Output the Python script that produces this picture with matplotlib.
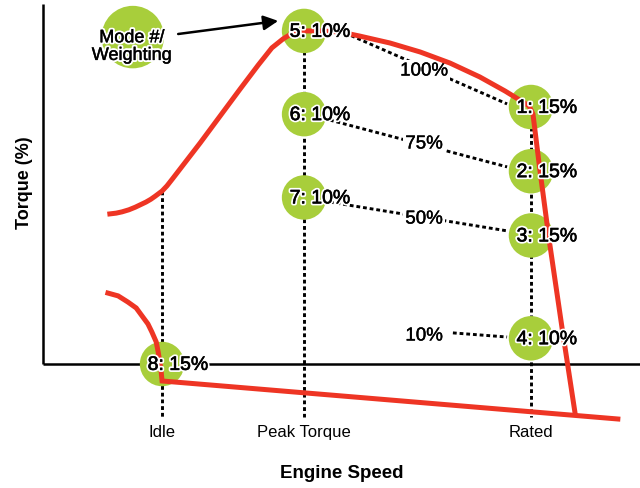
import matplotlib.pyplot as plt
import matplotlib.patheffects as pe

plt.rcParams['font.family'] = ['Liberation Sans', 'DejaVu Sans']

# engine speed in % of rated, torque in % of rated torque
IDLE, PEAK, RATED = 24.4, 53.5, 100.0
PEAK_T = 129.6

# full-load torque curve (lug line + governor)
lug_speed = [13.7, 15.0, 16.2, 17.6, 18.9, 20.0, 21.1, 22.1, 23.0, 24.4, 25.4, 26.6, 28.1,
             32.2, 36.3, 40.4, 44.1, 46.9, 49.2, 51.2, 53.5, 56.8, 60.9, 64.9, 71.1, 77.3,
             83.4, 89.5, 94.7, 97.7, 99.6, 100.4, 101.8, 103.7, 106.4, 109.0]
lug_torque = [58.4, 58.7, 59.2, 60.0, 61.0, 62.0, 63.0, 64.1, 65.3, 67.3, 69.3, 72.2, 75.9,
              86.0, 96.5, 107.0, 116.3, 123.0, 126.5, 128.8, 129.6, 129.6, 129.2, 127.6, 124.9, 121.4,
              117.1, 111.7, 106.2, 102.7, 100.4, 97.3, 75.9, 48.6, 13.6, -18.7]

# idle / motoring curve
mot_speed = [13.3, 15.4, 17.4, 19.1, 20.3, 21.5, 22.3, 23.2, 23.6, 24.0, 24.2, 24.4, 117.8]
mot_torque = [27.6, 26.5, 24.1, 21.8, 18.7, 15.6, 12.5, 8.6, 4.7, 0.0, -2.7, -6.6, -21.4]

# test modes
mode_num = [1, 2, 3, 4, 5, 6, 7, 8]
mode_weight = [15, 15, 15, 10, 10, 10, 10, 15]
mode_speed = [RATED, RATED, RATED, RATED, PEAK, PEAK, PEAK, IDLE]
mode_torque = [100, 75, 50, 10, PEAK_T, PEAK_T * 0.75, PEAK_T * 0.5, 0]

# load-level leader lines
load_labels = ['100%', '75%', '50%', '10%']
load_label_t = [114.0, 85.6, 56.4, 10.9]
lead_s0 = [61.9, 58.8, 58.8, 84.0]
lead_t0 = [128.8, 94.9, 63.0, 12.1]
lead_s1 = [95.1, 95.1, 95.1, 95.1]
lead_t1 = [101.2, 76.7, 51.8, 10.5]

tick_pos = [IDLE, PEAK, RATED]
tick_labels = ['Idle', 'Peak Torque', 'Rated']

green = '#a8ce3b'
red = '#ee3524'

fig = plt.figure(figsize=(6.4, 4.89), dpi=100)
ax = fig.add_axes([0, 0, 1, 1])
ax.set_xlim(-8.81, 122.34)
ax.set_ylim(-48.25, 142.02)
ax.axis('off')

# axes
ax.plot([0, 0], [0, 140.0], color='black', lw=1.8, solid_capstyle='butt')
ax.plot([0, 122.34], [0, 0], color='black', lw=1.8, solid_capstyle='butt')

dots = dict(color='black', lw=2.1, dashes=(1.3, 1.0), zorder=1)
ax.plot([IDLE, IDLE], [67.3, -20.6], **dots)
ax.plot([PEAK, PEAK], [PEAK_T, -20.6], **dots)
ax.plot([RATED, RATED], [100, -20.6], **dots)
heavy = [pe.Stroke(linewidth=0.3, foreground='black'), pe.Normal()]
for i in range(4):
    ax.plot([lead_s0[i], lead_s1[i]], [lead_t0[i], lead_t1[i]], **dots)
    ax.text(78.1, load_label_t[i], load_labels[i], fontsize=13.5, ha='center', va='center',
            zorder=2, path_effects=heavy,
            bbox=dict(facecolor='white', edgecolor='none', pad=1.5))

ax.plot(lug_speed, lug_torque, color=red, lw=3.6, zorder=4, solid_joinstyle='round')
ax.plot(mot_speed, mot_torque, color=red, lw=3.6, zorder=4, solid_joinstyle='miter')

ax.scatter(mode_speed, mode_torque, s=32 ** 2, color=green, edgecolors='none', zorder=3)
halo = [pe.Stroke(linewidth=3, foreground='white'),
        pe.Stroke(linewidth=0.45, foreground='black'), pe.Normal()]
for n, w, s, t in zip(mode_num, mode_weight, mode_speed, mode_torque):
    ax.annotate(f'{n}: {w}%', (s, t), xytext=(11.5, -1), textcoords='offset points',
                fontsize=14, ha='center', va='center', zorder=5, path_effects=halo)

# legend bubble
halo_thin = [pe.Stroke(linewidth=3, foreground='white'),
             pe.Stroke(linewidth=0.3, foreground='black'), pe.Normal()]
ax.scatter([18.4], [127.2], s=45 ** 2, color=green, edgecolors='none', zorder=3)
ax.text(18.2, 123.5, 'Mode #/\nWeighting', fontsize=13, ha='center', va='center',
        linespacing=1.05, zorder=5, path_effects=halo_thin)
ax.annotate('', xy=(48.2, 133.5), xytext=(27.7, 128.4), zorder=5,
            arrowprops=dict(arrowstyle='-|>', color='black', lw=1.8, mutation_scale=22,
                            shrinkA=0, shrinkB=0))

for p, lab in zip(tick_pos, tick_labels):
    ax.text(p, -26.1, lab, fontsize=12, ha='center', va='center')

ax.text(-3.7, 71.0, 'Torque (%)', fontsize=13, fontweight='bold', rotation=90,
        ha='center', va='center')
ax.text(61.3, -42.4, 'Engine Speed', fontsize=13.5, fontweight='bold', ha='center', va='center')

fig.savefig('out.png', dpi=100)
